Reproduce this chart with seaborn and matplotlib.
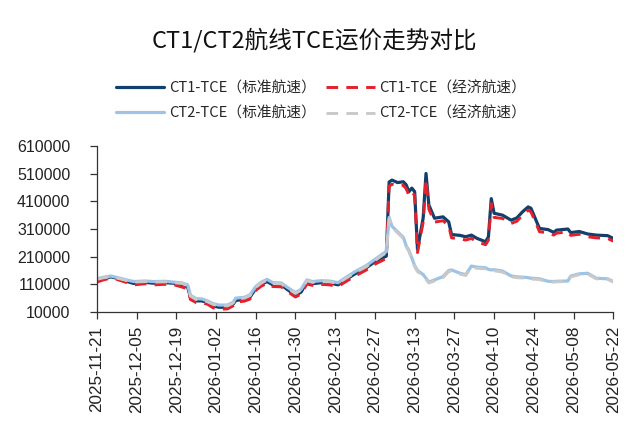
import matplotlib
matplotlib.use("Agg")
import matplotlib.pyplot as plt
import seaborn as sns
import pandas as pd

dates = ["2025-11-21", "2025-11-23", "2025-11-26", "2025-11-28", "2025-12-01", "2025-12-04",
         "2025-12-08", "2025-12-11", "2025-12-15", "2025-12-18", "2025-12-21", "2025-12-23",
         "2025-12-24", "2025-12-26", "2025-12-28", "2025-12-30", "2026-01-01", "2026-01-03",
         "2026-01-06", "2026-01-08", "2026-01-09", "2026-01-12", "2026-01-14", "2026-01-16",
         "2026-01-18", "2026-01-20", "2026-01-22", "2026-01-25", "2026-01-27", "2026-01-30",
         "2026-02-01", "2026-02-03", "2026-02-05", "2026-02-08", "2026-02-11", "2026-02-14",
         "2026-02-16", "2026-02-20", "2026-02-24", "2026-02-27", "2026-03-02", "2026-03-03",
         "2026-03-04", "2026-03-05", "2026-03-07", "2026-03-09", "2026-03-10", "2026-03-11",
         "2026-03-12", "2026-03-13", "2026-03-14", "2026-03-16", "2026-03-17", "2026-03-18",
         "2026-03-20", "2026-03-23", "2026-03-25", "2026-03-26", "2026-03-29", "2026-03-31",
         "2026-04-02", "2026-04-04", "2026-04-07", "2026-04-08", "2026-04-09", "2026-04-10",
         "2026-04-13", "2026-04-16", "2026-04-18", "2026-04-20", "2026-04-22", "2026-04-23",
         "2026-04-25", "2026-04-26", "2026-04-29", "2026-05-01", "2026-05-02", "2026-05-06",
         "2026-05-07", "2026-05-10", "2026-05-13", "2026-05-16", "2026-05-20", "2026-05-22"]

ct1_std = [125000, 130000, 137000, 132000, 122000, 113000, 117000, 114000, 116000, 114000,
           108000, 100000, 62000, 50000, 50000, 44000, 32000, 27000, 27000, 38000,
           52000, 55000, 64000, 95000, 110000, 120000, 108000, 108000, 92000, 70000,
           82000, 118000, 112000, 116000, 115000, 108000, 122000, 148000, 170000, 192000,
           207000, 212000, 480000, 487000, 478000, 481000, 470000, 445000, 458000, 445000,
           236000, 350000, 511000, 397000, 349000, 354000, 336000, 290000, 287000, 282000,
           288000, 276000, 264000, 282000, 420000, 367000, 360000, 342000, 350000, 372000,
           390000, 385000, 336000, 312000, 308000, 298000, 306000, 310000, 297000, 301000,
           292000, 288000, 286000, 276000]

ct1_eco = [118000, 125000, 133000, 128000, 118000, 108000, 112000, 108000, 110000, 109000,
           100000, 94000, 55000, 44000, 43000, 38000, 25000, 20000, 21000, 32000,
           46000, 49000, 57000, 88000, 104000, 113000, 102000, 101000, 85000, 64000,
           75000, 111000, 106000, 110000, 108000, 102000, 115000, 140000, 162000, 183000,
           198000, 203000, 465000, 472000, 466000, 468000, 456000, 432000, 445000, 432000,
           225000, 335000, 490000, 382000, 335000, 340000, 322000, 278000, 275000, 270000,
           276000, 264000, 253000, 270000, 402000, 352000, 348000, 330000, 338000, 360000,
           378000, 372000, 325000, 300000, 297000, 288000, 295000, 300000, 287000, 291000,
           282000, 278000, 276000, 266000]

ct2_std = [130000, 135000, 140000, 135000, 127000, 120000, 122000, 120000, 121000, 118000,
           115000, 108000, 70000, 58000, 57000, 50000, 40000, 35000, 35000, 45000,
           60000, 63000, 72000, 102000, 118000, 128000, 116000, 115000, 100000, 80000,
           92000, 126000, 120000, 123000, 122000, 116000, 130000, 156000, 178000, 200000,
           222000, 228000, 352000, 320000, 300000, 280000, 250000, 232000, 205000, 178000,
           160000, 145000, 132000, 118000, 126000, 138000, 160000, 162000, 150000, 145000,
           176000, 172000, 170000, 164000, 162000, 163000, 158000, 140000, 137000, 136000,
           134000, 132000, 131000, 130000, 121000, 120000, 121000, 122000, 140000, 148000,
           150000, 132000, 130000, 120000]

ct2_eco = [128000, 133000, 138000, 133000, 125000, 118000, 120000, 118000, 119000, 116000,
           113000, 105000, 67000, 55000, 54000, 47000, 37000, 32000, 32000, 42000,
           57000, 60000, 69000, 99000, 115000, 125000, 113000, 112000, 97000, 77000,
           89000, 123000, 117000, 120000, 119000, 113000, 127000, 152000, 174000, 196000,
           218000, 224000, 346000, 315000, 296000, 276000, 246000, 228000, 201000, 174000,
           156000, 141000, 128000, 115000, 122000, 134000, 156000, 158000, 147000, 142000,
           172000, 168000, 166000, 160000, 158000, 159000, 154000, 137000, 134000, 133000,
           131000, 129000, 128000, 127000, 119000, 118000, 119000, 120000, 137000, 145000,
           147000, 130000, 128000, 118000]

series_names = ["CT1-TCE（标准航速）", "CT1-TCE（经济航速）", "CT2-TCE（标准航速）", "CT2-TCE（经济航速）"]
y_ticks = [10000, 110000, 210000, 310000, 410000, 510000, 610000]
x_ticks = ["2025-11-21", "2025-12-05", "2025-12-19", "2026-01-02", "2026-01-16", "2026-01-30",
           "2026-02-13", "2026-02-27", "2026-03-13", "2026-03-27", "2026-04-10", "2026-04-24",
           "2026-05-08", "2026-05-22"]
title = "CT1/CT2航线TCE运价走势对比"

sns.set_theme(style="white")
plt.rcParams['font.family'] = ['Noto Sans CJK SC', 'DejaVu Sans']
plt.rcParams['axes.unicode_minus'] = False

df = pd.DataFrame({"date": pd.to_datetime(dates)})
series = [ct1_std, ct1_eco, ct2_std, ct2_eco]
colors = ["#123F6B", "#E3202B", "#9DC3E6", "#C9C9C9"]
styles = [(None, 2.3), ((4, 2.8), 2.1), (None, 2.3), ((4, 2.8), 2.1)]

fig = plt.figure(figsize=(6.29, 4.21), dpi=100)
ax = fig.add_axes([0.154, 0.259, 0.821, 0.394])

handles = []
for name, vals, c, (dash, lw) in zip(series_names, series, colors, styles):
    d = df.copy()
    d["v"] = vals
    sns.lineplot(data=d, x="date", y="v", ax=ax, color=c, linewidth=lw, label=name)
    line = ax.get_lines()[-1]
    if dash is not None:
        line.set_dashes(dash)
    handles.append(line)

ax.set_xlim(pd.Timestamp("2025-11-21"), pd.Timestamp("2026-05-22"))
ax.set_ylim(10000, 610000)
ax.set_yticks(y_ticks)
ax.set_yticklabels([str(v) for v in y_ticks], family=['Liberation Sans', 'DejaVu Sans'],
                   fontsize=11.5)
ax.set_xticks(pd.to_datetime(x_ticks))
ax.set_xticklabels(x_ticks, rotation=90, family=['Liberation Sans', 'DejaVu Sans'],
                   fontsize=12.3)
ax.set_xlabel("")
ax.set_ylabel("")

for s in ["top", "right"]:
    ax.spines[s].set_visible(False)
for s in ["left", "bottom"]:
    ax.spines[s].set_color("#333333")
    ax.spines[s].set_linewidth(0.9)
ax.tick_params(axis="both", direction="out", length=5, width=0.9, color="#333333",
               labelcolor="#222222", left=True, bottom=True)
ax.tick_params(axis="y", pad=14)
ax.tick_params(axis="x", pad=5)

ax.get_legend().remove()
order = [0, 2, 1, 3]
fig.legend([handles[i] for i in order], [series_names[i] for i in order],
           loc="center", bbox_to_anchor=(0.51, 0.76),
           ncol=2, frameon=False, fontsize=10.6, handlelength=3.3, columnspacing=0.7,
           handletextpad=0.3, labelspacing=0.75)

fig.text(0.5, 0.905, title, ha="center", va="center", fontsize=17, color="#111111")

fig.savefig("out.png", dpi=100)
